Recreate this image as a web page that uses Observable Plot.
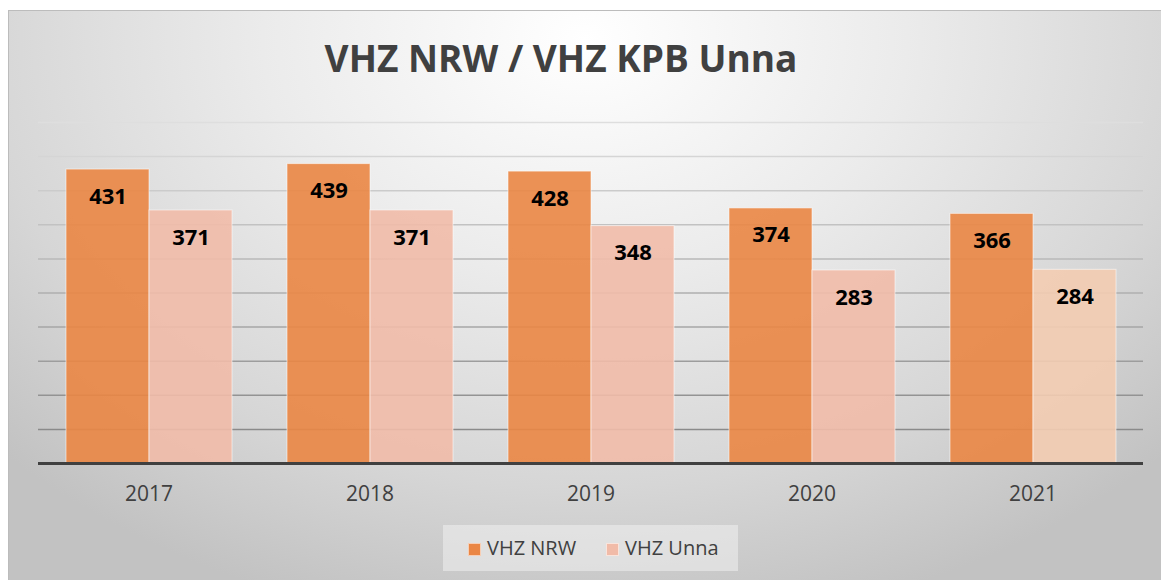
<!DOCTYPE html>
<html>
<head>
<meta charset="utf-8">
<script src="https://cdn.jsdelivr.net/npm/d3@7"></script>
<script src="https://cdn.jsdelivr.net/npm/@observablehq/plot@0.6"></script>
<style>
  html, body { margin: 0; padding: 0; width: 1161px; height: 580px; background: #ffffff; overflow: hidden; }
  #frame {
    position: absolute; left: 8px; top: 10px; width: 1153px; height: 570px;
    box-sizing: border-box; border-left: 1px solid #bcbcbc; border-top: 1px solid #bcbcbc;
    background: radial-gradient(ellipse 70% 105% at 50% 5%, #ffffff 0%, #ebebeb 40%, #d6d6d6 75%, #c2c2c2 100%);
  }
  #title {
    position: absolute; left: 261px; width: 600px; top: 33px; text-align: center;
    font-family: "Open Sans", sans-serif; font-weight: 700; font-size: 37px; color: #404040;
    line-height: 50px;
  }
  #chart { position: absolute; left: 0; top: 100px; }
  #legend {
    position: absolute; left: 443px; top: 525px; width: 295px; height: 46px;
    background: rgba(240,240,240,0.55);
    font-family: "Open Sans", sans-serif; font-size: 20px; color: #404040;
  }
  .item { position: absolute; top: 0; height: 46px; line-height: 46px; white-space: nowrap; }
  .sw { display: inline-block; width: 13px; height: 13px; vertical-align: -1px; margin-right: 6px; box-sizing: border-box; border: 1px solid rgba(255,255,255,0.6); }
</style>
</head>
<body>
<div id="frame"></div>
<div id="title">VHZ NRW / VHZ KPB Unna</div>
<div id="chart"></div>
<div id="legend"></div>
<script>
const years = ["2017", "2018", "2019", "2020", "2021"];
const series = ["VHZ NRW", "VHZ Unna"];
const nrw = [431, 439, 428, 374, 366];
const unna = [371, 371, 348, 283, 284];
const gridTicks = [50, 100, 150, 200, 250, 300, 350, 400, 450, 500];

const colors = {"VHZ NRW": "#ea8644", "VHZ Unna": "#f1bba8"};
const unna2021 = "#f3ccb1";

const data = [];
years.forEach((y, i) => {
  data.push({year: y, series: series[0], value: nrw[i]});
  data.push({year: y, series: series[1], value: unna[i]});
});

const gridColor = d3.scaleLinear().domain([50, 500]).range(["#8a8a8a", "#dedede"]);

const plot = Plot.plot({
  width: 1161,
  height: 420,
  marginTop: 22,
  marginBottom: 57,
  marginLeft: 37,
  marginRight: 18,
  style: {background: "transparent", overflow: "visible"},
  fx: {domain: years, padding: 0, label: null},
  x: {domain: series, paddingInner: 0, paddingOuter: 0.32, axis: null},
  y: {domain: [0, 500], axis: null},
  marks: [
    Plot.ruleY(gridTicks, {y: d => d, stroke: d => gridColor(d), strokeWidth: 1.5}),
    Plot.barY(data, {
      fx: "year", x: "series", y: "value",
      fill: d => (d.series === "VHZ Unna" && d.year === "2021") ? unna2021 : colors[d.series],
      fillOpacity: 0.9,
      stroke: "#ffffff", strokeOpacity: 0.55, strokeWidth: 1
    }),
    Plot.ruleY([0], {stroke: "#404040", strokeWidth: 3}),
    Plot.text(data, {
      fx: "year", x: "series", y: "value", text: d => String(d.value),
      dy: 27, fontSize: 22, fontWeight: "bold", fill: "#000000",
      fontFamily: "Open Sans"
    }),
    Plot.axisFx({anchor: "bottom", tickSize: 0, tickPadding: 23, fontSize: 21,
      fontFamily: "Open Sans", color: "#404040", label: null})
  ]
});
document.getElementById("chart").appendChild(plot);

const legend = document.getElementById("legend");
const lx = [25, 163];
series.forEach((s, i) => {
  const it = document.createElement("div");
  it.className = "item";
  it.style.left = lx[i] + "px";
  const sw = document.createElement("span");
  sw.className = "sw";
  sw.style.background = colors[s];
  it.appendChild(sw);
  it.appendChild(document.createTextNode(s));
  legend.appendChild(it);
});
</script>
</body>
</html>
